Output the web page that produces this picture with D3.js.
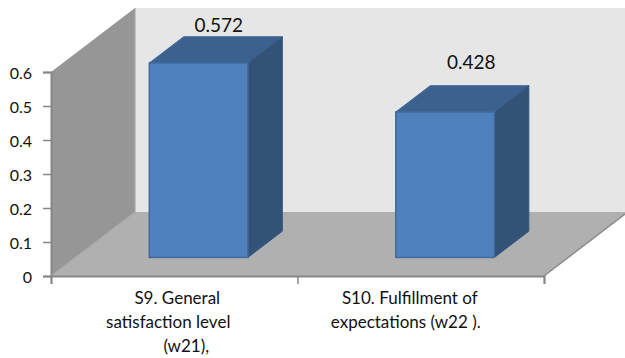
<!DOCTYPE html>
<html>
<head>
<meta charset="utf-8">
<script src="https://cdn.jsdelivr.net/npm/d3@7/dist/d3.min.js"></script>
<style>
  html, body { margin: 0; padding: 0; background: #fff; }
  svg { display: block; }
  text { font-family: Lato, "Open Sans", sans-serif; fill: #111; }
</style>
</head>
<body>
<svg id="chart" width="625" height="358"></svg>
<script>
// Chart values
const categories = ["S9", "S10"];
const values = [0.572, 0.428];
const valueLabels = ["0.572", "0.428"];
const yTicks = [0, 0.1, 0.2, 0.3, 0.4, 0.5, 0.6];
const categoryLines = [
  ["S9. General", "satisfaction level", "(w21),"],
  ["S10. Fulfillment of", "expectations (w22 )."]
];

const svg = d3.select("#chart");

// Oblique projection: the depth axis shifts right and up
const depthX = 84, depthY = -64;
const x = d3.scaleBand().domain(categories).range([51, 544]).paddingInner(0.6).paddingOuter(0.3);
const xTickScale = d3.scaleLinear().domain([0, 2]).range([51, 544]);
const y = d3.scaleLinear().domain([0, 0.6]).range([276, 72]);
const project = (px, py, d) => [px + depthX * d, py + depthY * d];
const path = pts => d3.line()(pts) + "Z";

const x0 = x.range()[0], x1 = x.range()[1];
const y0 = y(0), yTop = y(0.6);

// Back wall, side wall, floor
const backRight = 625;
svg.append("path")
  .attr("d", path([project(x0, yTop, 1), [backRight, yTop + depthY], [backRight, y0 + depthY], project(x0, y0, 1)]))
  .attr("fill", "#e6e6e6");
svg.append("path")
  .attr("d", path([[x0, yTop], project(x0, yTop, 1), project(x0, y0, 1), [x0, y0]]))
  .attr("fill", "#969696");
svg.append("path")
  .attr("d", path([[x0, y0], project(x0, y0, 1), [backRight, y0 + depthY], [backRight, y0 + depthY + 2], [x1, y0]]))
  .attr("fill", "#b0b0b0");

// Wall and floor edges
svg.append("path")
  .attr("d", d3.line()([project(x0, yTop, 1), project(x0, y0, 1), [x0, y0]]))
  .attr("fill", "none").attr("stroke", "#a8a8a8").attr("stroke-width", 1.2);
svg.append("path")
  .attr("d", d3.line()([[x1, y0], [backRight, y0 + depthY + 2]]))
  .attr("fill", "none").attr("stroke", "#8c8c8c").attr("stroke-width", 1.5);

// Bars: each box stands partway back on the floor
const barFront = 0.29, barDepth = 0.41;
const bars = svg.selectAll("g.bar").data(categories).join("g").attr("class", "bar");
bars.each(function (c, i) {
  const g = d3.select(this);
  const left = x(c) + depthX * barFront;
  const right = left + x.bandwidth();
  const bottom = y(0) + depthY * barFront;
  const top = y(values[i]) + depthY * barFront;
  const dx = depthX * barDepth, dy = depthY * barDepth;
  g.append("path")
    .attr("d", path([[left, top], [left + dx, top + dy], [right + dx, top + dy], [right, top]]))
    .attr("fill", "#3c618f").attr("stroke", "#41699b").attr("stroke-width", 1);
  g.append("path")
    .attr("d", path([[right, top], [right + dx, top + dy], [right + dx, bottom + dy], [right, bottom]]))
    .attr("fill", "#325278").attr("stroke", "#38597f").attr("stroke-width", 1);
  g.append("rect")
    .attr("x", left).attr("y", top)
    .attr("width", x.bandwidth()).attr("height", bottom - top)
    .attr("fill", "#4f81bd").attr("stroke", "#41699b").attr("stroke-width", 1.5);
});

// Value labels above the boxes
const labelGap = [5, 17];
const labelNudge = [3, 9];
svg.selectAll("text.value").data(valueLabels).join("text")
  .attr("class", "value")
  .attr("x", (d, i) => x(categories[i]) + x.bandwidth() / 2 + depthX * (barFront + barDepth / 2) + labelNudge[i])
  .attr("y", (d, i) => y(values[i]) + depthY * (barFront + barDepth) - labelGap[i])
  .attr("text-anchor", "middle")
  .attr("font-size", 19)
  .text(d => d);

// Value axis
const yAxis = d3.axisLeft(y).tickValues(yTicks).tickFormat(d3.format("~g")).tickSize(8).tickPadding(11);
const yG = svg.append("g").attr("transform", `translate(${x0},0)`).call(yAxis);
yG.selectAll(".tick text").attr("font-size", 16).style("fill", "#111").attr("dy", "0.42em");

// Category axis
const xAxis = d3.axisBottom(xTickScale).tickValues([0, 1, 2]).tickFormat("").tickSize(8);
const xG = svg.append("g").attr("transform", `translate(0,${y0})`).call(xAxis);
[yG, xG].forEach(a => {
  a.select(".domain").attr("stroke", "#868686").attr("stroke-width", 2);
  a.selectAll(".tick line").attr("stroke", "#868686").attr("stroke-width", 1.5);
});

// Wrapped category labels, each line with its own offset
const lineShift = [[3, -6, 12], [-11, -15]];
svg.selectAll("g.cat").data(categoryLines).join("g").attr("class", "cat")
  .each(function (lines, i) {
    const cx = (xTickScale(i) + xTickScale(i + 1)) / 2;
    d3.select(this).selectAll("text").data(lines).join("text")
      .attr("x", (d, j) => cx + lineShift[i][j])
      .attr("y", (d, j) => 304 + j * 24)
      .attr("text-anchor", "middle")
      .attr("font-size", 17)
      .text(d => d);
  });
</script>
</body>
</html>
